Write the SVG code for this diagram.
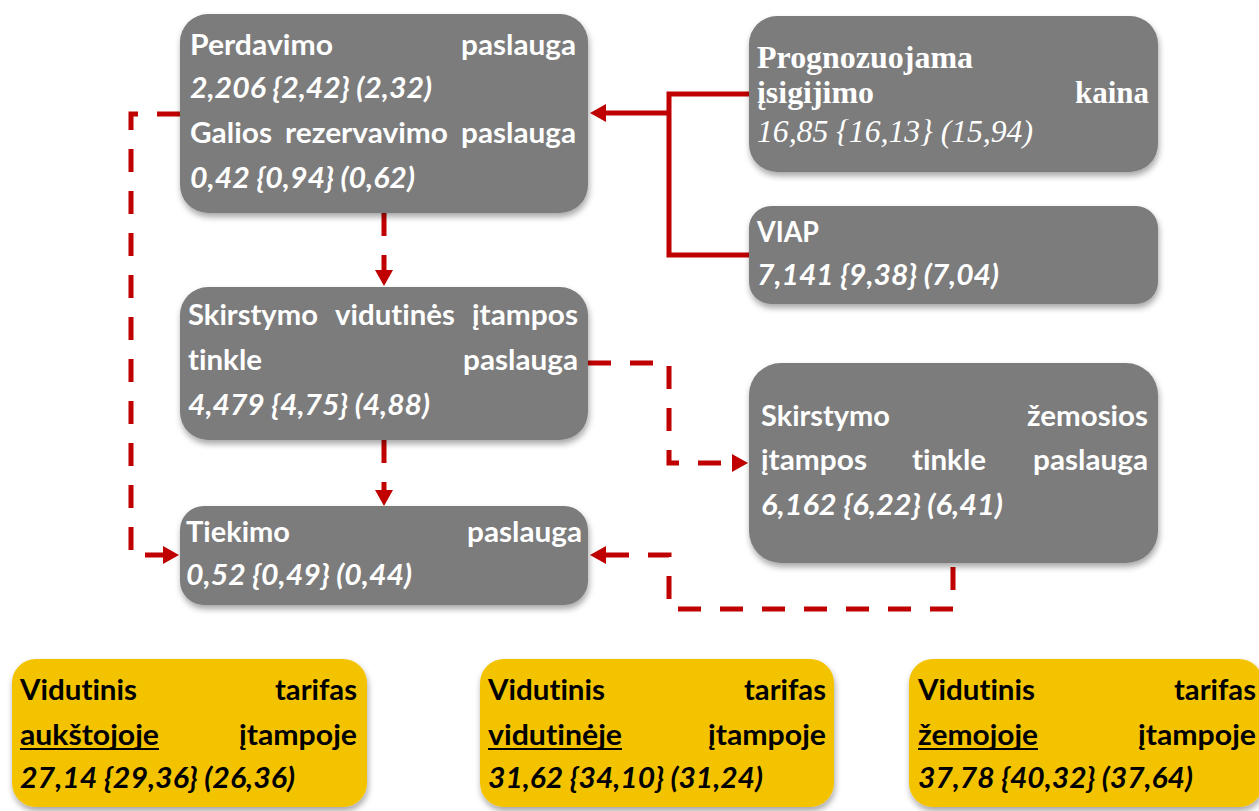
<svg xmlns="http://www.w3.org/2000/svg" width="1259" height="811" viewBox="0 0 1259 811">
<style>
text{font-variant-ligatures:none;font-feature-settings:"liga" 0,"dlig" 0}
.n{fill:#7B7B7B;filter:url(#sh)}
.y{fill:#F4C300;filter:url(#sh)}
.t{font-family:Lato,"Open Sans","Liberation Sans",sans-serif;font-weight:bold;font-size:28px;fill:#fff}
.ti{font-family:Lato,"Open Sans","Liberation Sans",sans-serif;font-weight:bold;font-style:italic;font-size:28px;fill:#fff}
.s{font-family:"Liberation Serif","Times New Roman",serif;font-weight:bold;font-size:31px;fill:#fff}
.si{font-family:"Liberation Serif","Times New Roman",serif;font-style:italic;font-size:31px;fill:#fff}
.k{font-family:Lato,"Open Sans","Liberation Sans",sans-serif;font-weight:bold;font-size:28px;fill:#000}
.ki{font-family:Lato,"Open Sans","Liberation Sans",sans-serif;font-weight:bold;font-style:italic;font-size:28px;fill:#000}
.c{fill:none;stroke:#C00000;stroke-width:5}
.d{fill:none;stroke:#C00000;stroke-width:5;stroke-dasharray:23 19}
.u{stroke:#000;stroke-width:2}
</style>
<defs>
<filter id="sh" x="-10%" y="-10%" width="120%" height="130%">
<feDropShadow dx="1" dy="4" stdDeviation="3" flood-color="#000" flood-opacity="0.35"/>
</filter>
<marker id="ah" markerUnits="userSpaceOnUse" markerWidth="16" markerHeight="18" refX="8" refY="9" orient="auto">
<path d="M0,0 L16,9 L0,18 z" fill="#C00000"/>
</marker>
</defs>

<g id="connectors">
<path class="c" d="M749,94 H669 V255 H749"/>
<path class="c" d="M669,113 H598" marker-end="url(#ah)"/>
<path class="d" d="M180,114 H131 V555 H171" marker-end="url(#ah)"/>
<path class="d" d="M384,213 V278" marker-end="url(#ah)"/>
<path class="d" d="M384,440 V498" marker-end="url(#ah)"/>
<path class="d" d="M588,363 H669 V463 H740" marker-end="url(#ah)"/>
<path class="d" d="M953,567 V609 H669 V555 H598" marker-end="url(#ah)"/>
</g>

<g id="perdavimo">
<rect class="n" x="180" y="14" width="408" height="199" rx="28"/>
<text class="t" x="190" y="55" textLength="143" lengthAdjust="spacingAndGlyphs">Perdavimo</text>
<text class="t" x="461" y="55" textLength="115" lengthAdjust="spacingAndGlyphs">paslauga</text>
<text class="ti" x="190" y="98" textLength="242" lengthAdjust="spacingAndGlyphs">2,206 {2,42} (2,32)</text>
<text class="t" x="190" y="143" textLength="82" lengthAdjust="spacingAndGlyphs">Galios</text>
<text class="t" x="285" y="143" textLength="163" lengthAdjust="spacingAndGlyphs">rezervavimo</text>
<text class="t" x="461" y="143" textLength="115" lengthAdjust="spacingAndGlyphs">paslauga</text>
<text class="ti" x="190" y="188" textLength="225" lengthAdjust="spacingAndGlyphs">0,42 {0,94} (0,62)</text>
</g>

<g id="skirstymo-vidutines">
<rect class="n" x="180" y="287" width="408" height="153" rx="28"/>
<text class="t" x="188" y="325" textLength="130" lengthAdjust="spacingAndGlyphs">Skirstymo</text>
<text class="t" x="335" y="325" textLength="120" lengthAdjust="spacingAndGlyphs">vidutinės</text>
<text class="t" x="472" y="325" textLength="106" lengthAdjust="spacingAndGlyphs">įtampos</text>
<text class="t" x="188" y="370" textLength="74" lengthAdjust="spacingAndGlyphs">tinkle</text>
<text class="t" x="463" y="370" textLength="115" lengthAdjust="spacingAndGlyphs">paslauga</text>
<text class="ti" x="188" y="415" textLength="242" lengthAdjust="spacingAndGlyphs">4,479 {4,75} (4,88)</text>
</g>

<g id="tiekimo">
<rect class="n" x="180" y="506" width="408" height="99" rx="24"/>
<text class="t" x="186" y="542" textLength="104" lengthAdjust="spacingAndGlyphs">Tiekimo</text>
<text class="t" x="467" y="542" textLength="115" lengthAdjust="spacingAndGlyphs">paslauga</text>
<text class="ti" x="186" y="585" textLength="226" lengthAdjust="spacingAndGlyphs">0,52 {0,49} (0,44)</text>
</g>

<g id="prognozuojama">
<rect class="n" x="749" y="16" width="409" height="156" rx="28"/>
<text class="s" x="757" y="68" textLength="216" lengthAdjust="spacingAndGlyphs">Prognozuojama</text>
<text class="s" x="757" y="103" textLength="117" lengthAdjust="spacingAndGlyphs">įsigijimo</text>
<text class="s" x="1075" y="103" textLength="74" lengthAdjust="spacingAndGlyphs">kaina</text>
<text class="si" x="757" y="142" textLength="276" lengthAdjust="spacingAndGlyphs">16,85 {16,13} (15,94)</text>
</g>

<g id="viap">
<rect class="n" x="749" y="206" width="409" height="98" rx="22"/>
<text class="t" x="757" y="242" textLength="62" lengthAdjust="spacingAndGlyphs">VIAP</text>
<text class="ti" x="757" y="285" textLength="242" lengthAdjust="spacingAndGlyphs">7,141 {9,38} (7,04)</text>
</g>

<g id="skirstymo-zemosios">
<rect class="n" x="749" y="363" width="409" height="200" rx="32"/>
<text class="t" x="761" y="426" textLength="129" lengthAdjust="spacingAndGlyphs">Skirstymo</text>
<text class="t" x="1027" y="426" textLength="121" lengthAdjust="spacingAndGlyphs">žemosios</text>
<text class="t" x="761" y="470" textLength="106" lengthAdjust="spacingAndGlyphs">įtampos</text>
<text class="t" x="912" y="470" textLength="74" lengthAdjust="spacingAndGlyphs">tinkle</text>
<text class="t" x="1033" y="470" textLength="115" lengthAdjust="spacingAndGlyphs">paslauga</text>
<text class="ti" x="761" y="515" textLength="242" lengthAdjust="spacingAndGlyphs">6,162 {6,22} (6,41)</text>
</g>

<g id="tarifas-aukstojoje">
<rect class="y" x="12" y="659" width="355" height="148" rx="24"/>
<text class="k" x="20" y="700" textLength="117" lengthAdjust="spacingAndGlyphs">Vidutinis</text>
<text class="k" x="275" y="700" textLength="82" lengthAdjust="spacingAndGlyphs">tarifas</text>
<text class="k" x="20" y="745" textLength="139" lengthAdjust="spacingAndGlyphs">aukštojoje</text>
<line class="u" x1="20" y1="749" x2="159" y2="749"/>
<text class="k" x="239" y="745" textLength="118" lengthAdjust="spacingAndGlyphs">įtampoje</text>
<text class="ki" x="20" y="788" textLength="275" lengthAdjust="spacingAndGlyphs">27,14 {29,36} (26,36)</text>
</g>

<g id="tarifas-vidutineje">
<rect class="y" x="480" y="659" width="354" height="148" rx="24"/>
<text class="k" x="488" y="700" textLength="117" lengthAdjust="spacingAndGlyphs">Vidutinis</text>
<text class="k" x="744" y="700" textLength="82" lengthAdjust="spacingAndGlyphs">tarifas</text>
<text class="k" x="488" y="745" textLength="134" lengthAdjust="spacingAndGlyphs">vidutinėje</text>
<line class="u" x1="488" y1="749" x2="622" y2="749"/>
<text class="k" x="708" y="745" textLength="118" lengthAdjust="spacingAndGlyphs">įtampoje</text>
<text class="ki" x="488" y="788" textLength="275" lengthAdjust="spacingAndGlyphs">31,62 {34,10} (31,24)</text>
</g>

<g id="tarifas-zemojoje">
<rect class="y" x="909" y="659" width="354" height="148" rx="24"/>
<text class="k" x="918" y="700" textLength="117" lengthAdjust="spacingAndGlyphs">Vidutinis</text>
<text class="k" x="1174" y="700" textLength="82" lengthAdjust="spacingAndGlyphs">tarifas</text>
<text class="k" x="918" y="745" textLength="120" lengthAdjust="spacingAndGlyphs">žemojoje</text>
<line class="u" x1="918" y1="749" x2="1038" y2="749"/>
<text class="k" x="1138" y="745" textLength="118" lengthAdjust="spacingAndGlyphs">įtampoje</text>
<text class="ki" x="918" y="788" textLength="275" lengthAdjust="spacingAndGlyphs">37,78 {40,32} (37,64)</text>
</g>
</svg>
